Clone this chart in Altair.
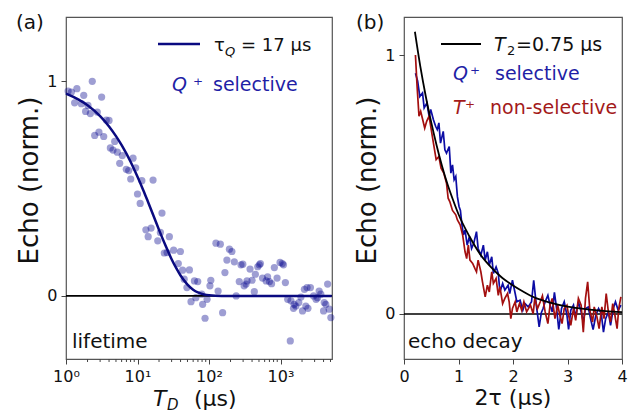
import altair as alt
import pandas as pd

# ---------------- Panel (a): lifetime ----------------
td_pts = [2.33, 1.07, 1.19, 1.42, 1.77, 3.15, 1.32, 1.64, 2.03, 1.88, 2.19, 2.74, 3.66, 4.0,
          2.52, 2.89, 3.37, 4.8, 4.17, 4.54, 5.22, 6.13, 8.66, 5.64, 6.97, 7.53, 9.43, 8.04,
          11.5, 16.5, 10.0, 10.9,
          22, 13.1, 15.5, 14.1, 19.2, 20.9, 27.9, 23.7, 25.9, 32, 39.8, 37.2, 42.7, 53.2,
          45, 49.1, 62.5, 69.6, 106, 103, 134, 79, 94, 65.5, 56, 81.5, 88, 155, 125, 144,
          193, 209, 178, 167,
          226, 280, 297, 375, 505, 524, 480, 445, 340, 265, 310, 330, 400, 430, 560, 630,
          700, 660, 750, 820, 895, 985, 1060, 1100, 1170, 240,
          1260, 1400, 1550, 1640, 1520, 1800, 1930, 2030, 2260, 2420, 2160, 2350, 2620,
          2900, 3140, 3300, 3470, 3660, 4090, 4300, 4560, 4800, 5060, 4000, 1370]
echo_pts = [1.0, 0.955, 0.95, 0.966, 0.935, 0.927, 0.90, 0.896, 0.888, 0.86, 0.85, 0.857, 0.82, 0.818,
            0.748, 0.763, 0.743, 0.72, 0.69, 0.68, 0.67, 0.654, 0.642, 0.618, 0.59, 0.584, 0.597, 0.545,
            0.537, 0.54, 0.475, 0.431,
            0.386, 0.308, 0.316, 0.276, 0.257, 0.296, 0.276, 0.20, 0.202, 0.213, 0.207, 0.151, 0.12, 0.121,
            0.078, 0.039, 0.07, 0.067, 0.073, 0.047, 0.023, 0.008, -0.016, -0.008, -0.027, -0.039, -0.104,
            -0.078, 0.246, 0.241,
            0.218, 0.207, 0.167, 0.109,
            0.159, 0.145, 0.148, 0.125, 0.145, 0.151, 0.136, 0.101, 0.07, 0.067, 0.047, 0.055, 0.073, 0.02,
            0.083, 0.07, 0.067, 0.089, 0.057, 0.132, 0.083, 0.156, 0.151, 0.145, 0.062, 0.0,
            -0.016, -0.023, -0.039, -0.047, -0.058, -0.031, -0.005, -0.07, -0.047, -0.058, 0.031, 0.039,
            0.039, 0.0, -0.016, -0.008, 0.023, 0.008, -0.031, -0.039, 0.055, -0.062, -0.101, -0.07, -0.21]

td_fit = [1, 1.5, 2, 3, 4, 5, 6, 7, 8, 10, 12, 14, 17, 20, 25, 30, 35, 40, 50, 60, 70, 85, 100, 150, 5200]
echo_fit = [0.943, 0.915, 0.889, 0.838, 0.79, 0.745, 0.703, 0.663, 0.625, 0.555, 0.494, 0.439, 0.368,
            0.308, 0.23, 0.171, 0.128, 0.095, 0.053, 0.029, 0.016, 0.007, 0.003, 0.0, 0.0]

td_major = [1, 10, 100, 1000]
td_minor = [2, 3, 4, 5, 6, 7, 8, 9, 20, 30, 40, 50, 60, 70, 80, 90,
            200, 300, 400, 500, 600, 700, 800, 900, 2000, 3000, 4000, 5000]

# ---------------- Panel (b): echo decay ----------------
t_blue = [0.21, 0.25, 0.29, 0.34, 0.37, 0.42, 0.46, 0.49, 0.54, 0.58, 0.61, 0.64, 0.67, 0.72, 0.75,
          0.78, 0.83, 0.86, 0.89, 0.92, 0.95, 0.98, 1.01, 1.035, 1.06, 1.09, 1.12, 1.16, 1.20, 1.24,
          1.28, 1.33, 1.36, 1.41, 1.456, 1.49, 1.53, 1.565, 1.61, 1.64, 1.69, 1.73, 1.76, 1.81, 1.85,
          1.91, 1.94, 1.99, 2.04, 2.07, 2.13, 2.18, 2.22, 2.28, 2.34, 2.38, 2.43, 2.48, 2.52, 2.55,
          2.59, 2.64, 2.68, 2.72, 2.76, 2.80, 2.84, 2.89, 2.94, 2.99, 3.02, 3.06, 3.11, 3.15, 3.20,
          3.25, 3.29, 3.33, 3.38, 3.43, 3.47, 3.52, 3.57, 3.62, 3.66, 3.70, 3.75, 3.79, 3.84, 3.88,
          3.93, 3.98]
y_blue = [0.93, 0.90, 0.84, 0.854, 0.796, 0.815, 0.764, 0.79, 0.75, 0.725, 0.712, 0.738, 0.66, 0.705, 0.634,
          0.621, 0.647, 0.544, 0.576, 0.518, 0.531, 0.453, 0.415, 0.40, 0.35, 0.305, 0.324, 0.266, 0.299, 0.253,
          0.273, 0.318, 0.253, 0.227, 0.266, 0.208, 0.24, 0.189, 0.221, 0.157, 0.182, 0.157, 0.085, 0.118, 0.092,
          0.111, 0.079, 0.13, 0.079, 0.047, 0.053, 0.014, 0.04, 0.027, 0.047, 0.13, 0.03, -0.05, 0.005, 0.02,
          0.047, 0.072, 0.034, 0.008, 0.083, 0.021, -0.06, 0.021, 0.047, -0.005, -0.06, 0.014, 0.034, -0.012, 0.047,
          0.008, -0.031, 0.021, 0.027, -0.025, -0.06, -0.005, 0.021, 0.001, -0.07, -0.018, 0.008, -0.044, 0.021, 0.047,
          0.014, 0.034]

t_red = [0.21, 0.24, 0.275, 0.306, 0.336, 0.38, 0.416, 0.46, 0.50, 0.55, 0.59, 0.64, 0.68, 0.73, 0.78,
         0.81, 0.84, 0.89, 0.95, 0.98, 1.03, 1.076, 1.12, 1.15, 1.18, 1.21, 1.26, 1.30, 1.33, 1.36,
         1.41, 1.44, 1.49, 1.53, 1.565, 1.61, 1.64, 1.69, 1.73, 1.76, 1.81, 1.85, 1.90, 1.93, 1.96,
         1.99, 2.04, 2.07, 2.12, 2.16, 2.20, 2.25, 2.32, 2.37, 2.40, 2.45, 2.50, 2.54, 2.59, 2.64,
         2.68, 2.72, 2.77, 2.82, 2.86, 2.90, 2.94, 2.99, 3.02, 3.06, 3.11, 3.15, 3.20, 3.25, 3.29,
         3.33, 3.37, 3.41, 3.46, 3.49, 3.54, 3.58, 3.63, 3.67, 3.71, 3.75, 3.79, 3.83, 3.87, 3.91,
         3.94, 3.98]
y_red = [1.0, 0.88, 0.764, 0.783, 0.757, 0.718, 0.744, 0.764, 0.712, 0.647, 0.596, 0.608, 0.563, 0.544, 0.505,
         0.447, 0.434, 0.40, 0.383, 0.363, 0.344, 0.305, 0.24, 0.214, 0.266, 0.208, 0.195, 0.176, 0.163, 0.208,
         0.163, 0.124, 0.066, 0.111, 0.085, 0.163, 0.118, 0.137, 0.072, 0.105, 0.04, 0.06, 0.079, 0.047, -0.018,
         0.021, 0.047, 0.008, 0.04, 0.014, 0.047, 0.008, 0.034, 0.001, 0.06, 0.021, 0.047, 0.07, 0.008, -0.037,
         0.034, 0.06, -0.018, 0.034, -0.005, -0.037, 0.021, 0.034, -0.005, -0.044, 0.021, -0.025, 0.06, 0.034, -0.07,
         0.06, 0.124, 0.014, -0.031, 0.027, -0.012, -0.057, 0.027, -0.018, 0.079, 0.008, -0.031, 0.04, -0.005, -0.057,
         0.021, 0.066]

t_fit = [0.2, 0.3, 0.4, 0.5, 0.6, 0.7, 0.8, 0.9, 1.0, 1.2, 1.4, 1.6, 1.8, 2.0, 2.2, 2.4, 2.7, 3.0, 3.4, 3.7, 4.0]
y_fit = [1.09, 0.955, 0.84, 0.74, 0.65, 0.57, 0.50, 0.44, 0.385, 0.30, 0.23, 0.18, 0.14, 0.11, 0.085,
         0.063, 0.043, 0.028, 0.017, 0.011, 0.007]

# ---------------- styling ----------------
FONT = "DejaVu Sans"
W_A, W_B, H = 266, 218, 342
NAVY = "#0a0a80"
BLUE_T = "#1f1fa6"
BLUE_L = "#0c0ca4"
RED_L = "#a30f0f"
RED_T = "#a31a1a"


def txt(s, x, y, size, color="#111111", style="normal", align="left"):
    return alt.Chart(pd.DataFrame({"s": [s]})).mark_text(
        align=align, baseline="alphabetic", font=FONT, fontSize=size,
        fontStyle=style, color=color
    ).encode(x=alt.value(x), y=alt.value(y), text="s:N")


# ---- panel (a) ----
xa = alt.X("x:Q", scale=alt.Scale(type="log", domain=[1, 5250], nice=False),
           axis=alt.Axis(values=td_major, title=None, labelFlush=False, labelOverlap=False,
                         labelExpr="datum.value == 1 ? '10⁰' : datum.value == 10 ? '10¹' : datum.value == 100 ? '10²' : '10³'"))
ya = alt.Y("y:Q", scale=alt.Scale(domain=[-0.294, 1.30], nice=False, zero=False),
           axis=alt.Axis(values=[0, 1], format="d", title="Echo (norm.)", titleY=163))

df_pts = pd.DataFrame({"x": td_pts, "y": echo_pts})
df_fa = pd.DataFrame({"x": td_fit, "y": echo_fit})
df_minor = pd.DataFrame({"x": td_minor})
df_zero = pd.DataFrame({"y": [0]})

pts = alt.Chart(df_pts).mark_circle(size=52, color="#00008b", opacity=0.38).encode(x=xa, y=ya)
zero_a = alt.Chart(df_zero).mark_rule(color="#000000", strokeWidth=1.6).encode(y=ya)
fit_a = alt.Chart(df_fa).mark_line(color=NAVY, strokeWidth=2.5, interpolate="monotone").encode(x=xa, y=ya)
minor_a = alt.Chart(df_minor).mark_rule(color="#444444", strokeWidth=1).encode(
    x=xa, y=alt.value(H), y2=alt.value(H + 3))
leg_line_a = alt.Chart(df_zero).mark_rule(color=NAVY, strokeWidth=2.5).encode(
    x=alt.value(92), x2=alt.value(134), y=alt.value(27))

panel_a = alt.layer(
    pts, zero_a, fit_a, minor_a, leg_line_a,
    txt("(a)", -50, 12, 20),
    txt("τ", 148, 34, 18),
    txt("Q", 159, 39, 13, style="italic"),
    txt("= 17 μs", 175, 34, 18),
    txt("Q", 106, 74, 19, color=BLUE_T, style="italic"),
    txt("⁺", 127, 74, 19, color=BLUE_T),
    txt("selective", 147, 74, 19, color=BLUE_T),
    txt("lifetime", 6, 331, 20),
    txt("T", 87, H + 47, 22, style="italic"),
    txt("D", 101, H + 51, 15, style="italic"),
    txt("(μs)", 128, H + 47, 22),
).properties(width=W_A, height=H)

# ---- panel (b) ----
xb = alt.X("x:Q", scale=alt.Scale(domain=[0, 4], nice=False),
           axis=alt.Axis(values=[0, 1, 2, 3, 4], title=None, labelFlush=False, format="d"))
yb = alt.Y("y:Q", scale=alt.Scale(domain=[-0.174, 1.147], nice=False, zero=False),
           axis=alt.Axis(values=[0, 1], format="d", title="Echo (norm.)", titleY=163))

df_blue = pd.DataFrame({"x": t_blue, "y": y_blue})
df_red = pd.DataFrame({"x": t_red, "y": y_red})
df_fb = pd.DataFrame({"x": t_fit, "y": y_fit})

zero_b = alt.Chart(df_zero).mark_rule(color="#000000", strokeWidth=1.6).encode(y=yb)
blue = alt.Chart(df_blue).mark_line(color=BLUE_L, strokeWidth=1.7).encode(x=xb, y=yb)
red = alt.Chart(df_red).mark_line(color=RED_L, strokeWidth=1.7).encode(x=xb, y=yb)
fit_b = alt.Chart(df_fb).mark_line(color="#000000", strokeWidth=1.8, interpolate="monotone").encode(x=xb, y=yb)
leg_line_b = alt.Chart(df_zero).mark_rule(color="#000000", strokeWidth=2).encode(
    x=alt.value(37), x2=alt.value(77), y=alt.value(27))

panel_b = alt.layer(
    zero_b, blue, red, fit_b, leg_line_b,
    txt("(b)", -48, 12, 20),
    txt("T", 90, 34, 19, style="italic"),
    txt("2", 103, 38, 13),
    txt("=0.75 μs", 112, 34, 19),
    txt("Q", 49, 63, 19, color=BLUE_T, style="italic"),
    txt("⁺", 66, 63, 19, color=BLUE_T),
    txt("selective", 91, 63, 19, color=BLUE_T),
    txt("T", 49, 97, 19, color=RED_T, style="italic"),
    txt("⁺", 61, 97, 19, color=RED_T),
    txt("non-selective", 86, 97, 19, color=RED_T),
    txt("echo decay", 4, 331, 20),
    txt("2τ (μs)", 109, H + 46, 22, align="center"),
).properties(width=W_B, height=H)

chart = alt.hconcat(panel_a, panel_b, spacing=16).properties(
    padding={"left": 7, "top": 4, "right": 0, "bottom": 0}
).configure_view(
    stroke="#555555", strokeWidth=1.2
).configure_axis(
    labelFont=FONT, labelFontSize=16, labelColor="#111111", tickColor="#444444", tickSize=5,
    tickWidth=1, labelPadding=4, domain=False, grid=False, titleFont=FONT, titleFontSize=26,
    titleFontWeight="normal", titleColor="#111111", titlePadding=4
)

chart.save("out.html", embed_options={"renderer": "svg", "actions": False})
